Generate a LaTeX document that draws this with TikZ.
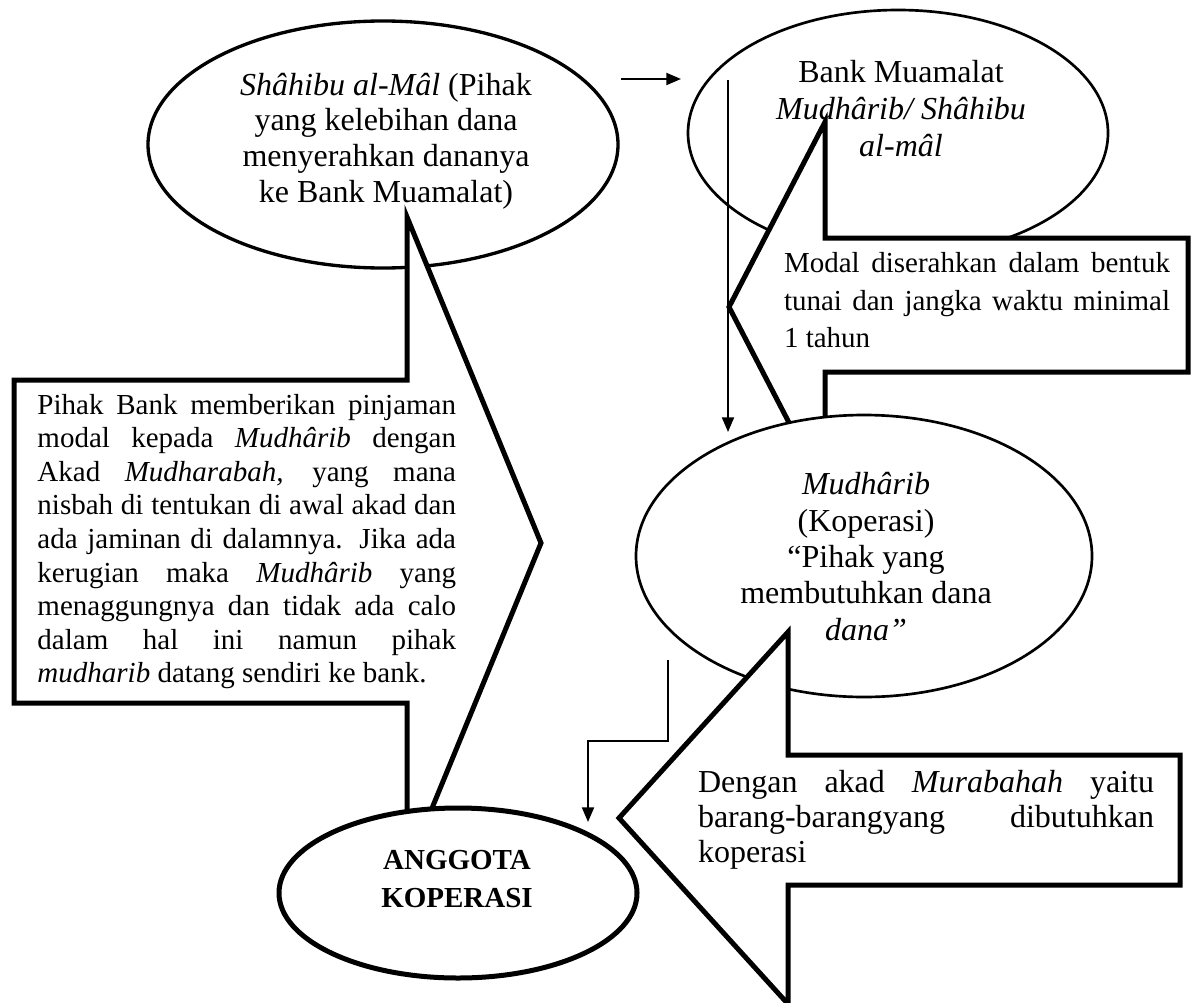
\documentclass[tikz,border=0pt]{standalone}
\usepackage{fontspec}
\setmainfont{Liberation Serif}
\usetikzlibrary{shapes.geometric,arrows.meta}
\hyphenpenalty=10000
\exhyphenpenalty=10000
\begin{document}
\begin{tikzpicture}[x=0.75pt,y=-0.75pt,
  ell/.style={ellipse, draw, fill=white, inner sep=0pt, outer sep=0pt},
  callout/.style={draw, fill=white, line width=3.75pt, line join=miter},
  conn/.style={draw, line width=1.5pt, -{Triangle[length=11pt,width=9pt]}},
  ctext/.style={inner sep=0pt, align=center},
  jtext/.style={inner sep=0pt, align=justify},
]
\useasboundingbox (0,0) rectangle (1194,1002);
\fill[white] (0,0) rectangle (1194,1002);

% top ellipses
\node[ell, line width=2.5pt, minimum width=352.5pt, minimum height=185.25pt] (shahib) at (383,144.5) {};
\node[ell, line width=2pt, minimum width=315pt, minimum height=184.5pt] (bank) at (898,133) {};

% callout: modal
\draw[callout] (1188,238) -- (1188,372) -- (825,372) -- (825,492) -- (729,307) -- (825,122) -- (825,238) -- cycle;
% callout: pinjaman
\draw[callout] (14,380) -- (407,380) -- (407,217) -- (541,543) -- (407,869) -- (407,703) -- (14,703) -- cycle;

% middle ellipse
\node[ell, line width=2pt, minimum width=342pt, minimum height=211.5pt] (mudharib) at (864,556) {};

% callout: murabahah
\draw[callout] (788,755) -- (1180,755) -- (1180,885) -- (788,885) -- (788,1004) -- (619,818) -- (788,632) -- cycle;

% bottom ellipse
\node[ell, line width=3.75pt, minimum width=268.5pt, minimum height=127.5pt] (anggota) at (458,893) {};

% texts
\node[ctext, font=\fontsize{24}{26.8}\selectfont] (shahibtxt) at (386,141)
  {\textit{Shâhibu al-Mâl} (Pihak\\yang kelebihan dana\\menyerahkan dananya\\ke Bank Muamalat)};
\node[ctext, font=\fontsize{24}{27.75}\selectfont] (banktxt) at (901,109)
  {Bank Muamalat\\\textit{Mudhârib/ Shâhibu}\\\textit{al-mâl}};
\node[ctext, font=\fontsize{24}{27.2}\selectfont] (mudtxt) at (866,556.5)
  {\textit{Mudhârib}\\(Koperasi)\\“Pihak yang\\membutuhkan dana\\\textit{dana”}};
\node[ctext, font=\fontsize{21.75}{28.5}\selectfont\bfseries] (anggotatxt) at (457,879.5)
  {ANGGOTA\\KOPERASI};

\node[jtext, text width=313.9pt, font=\fontsize{21.75}{25.2}\selectfont] (pinjamantxt) at (246.75,541.5)
  {Pihak Bank memberikan pinjaman\linebreak modal kepada \textit{Mudhârib} dengan\linebreak Akad \textit{Mudharabah,} yang mana\linebreak nisbah di tentukan di awal akad dan\linebreak ada jaminan di dalamnya. Jika ada\linebreak kerugian maka \textit{Mudhârib} yang\linebreak menaggungnya dan tidak ada calo\linebreak dalam hal ini namun pihak\linebreak \textit{mudharib} datang sendiri ke bank.};
\node[jtext, text width=289.5pt, font=\fontsize{21.75}{28.1}\selectfont] (modaltxt) at (977,300.5)
  {Modal diserahkan dalam bentuk\linebreak tunai dan jangka waktu minimal\linebreak 1 tahun};
\node[jtext, text width=342pt, font=\fontsize{24}{26.25}\selectfont] (murabahahtxt) at (926,819.5)
  {Dengan akad \textit{Murabahah} yaitu\linebreak barang-barangyang dibutuhkan\linebreak koperasi};

% connectors
\coordinate (a1s) at (621,79);
\coordinate (a1e) at (681,79);
\draw[conn] (a1s) -- (a1e);
\coordinate (v1s) at (728,80);
\coordinate (v1e) at (728,432);
\draw[conn] (v1s) -- (v1e);
\coordinate (e1s) at (668,660);
\coordinate (e1e) at (588,822);
\draw[conn] (e1s) -- ++(0,81) -| (e1e);
\end{tikzpicture}
\end{document}
